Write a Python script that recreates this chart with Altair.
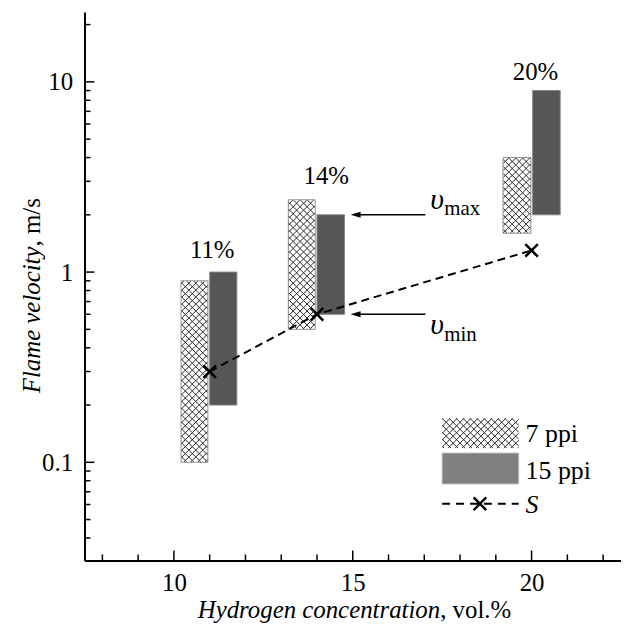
import math
import altair as alt
import pandas as pd

# ---------------- data ----------------
concentration = [11, 14, 20]
pct_labels = ["11%", "14%", "20%"]
pct_label_x = [11.07, 14.26, 20.11]
pct_label_y = [1.18, 2.91, 10.2]

# 7 ppi foam: bar extent along x and velocity range
ppi7_x1 = [10.20, 13.20, 19.20]
ppi7_x2 = [10.95, 13.95, 19.98]
ppi7_vmin = [0.10, 0.50, 1.60]
ppi7_vmax = [0.90, 2.40, 4.00]

# 15 ppi foam
ppi15_x1 = [11.00, 14.00, 20.03]
ppi15_x2 = [11.76, 14.77, 20.80]
ppi15_vmin = [0.20, 0.60, 2.00]
ppi15_vmax = [1.00, 2.00, 9.00]

# S curve
s_x = [11, 14, 20]
s_v = [0.30, 0.60, 1.30]

x_major = [10, 15, 20]
x_minor = [8, 9, 11, 12, 13, 14, 16, 17, 18, 19, 21, 22]
y_major = [0.1, 1, 10]
y_minor = [0.04, 0.05, 0.06, 0.07, 0.08, 0.09,
           0.2, 0.3, 0.4, 0.5, 0.6, 0.7, 0.8, 0.9,
           2, 3, 4, 5, 6, 7, 8, 9, 20]

# ---------------- layout ----------------
FONT = "Liberation Serif, Times New Roman, Times, serif"
W, H = 540, 552
PAD = {"left": 77, "top": 2, "right": 0, "bottom": 62}
X_DOM = [7.5, 22.5]
Y_DOM = [0.0305, 23.3]
KX = W / (X_DOM[1] - X_DOM[0])
LY0, LY1 = math.log10(Y_DOM[0]), math.log10(Y_DOM[1])
KY = H / (LY1 - LY0)


def x2px(x):
    return (x - X_DOM[0]) * KX


def y2px(y):
    return (LY1 - math.log10(y)) * KY


def px2x(p):
    return X_DOM[0] + p / KX


def px2y(p):
    return 10 ** (LY1 - p / KY)


def hatch(l, t, r, b, step=7.0):
    """cross-hatch segments inside a pixel rectangle, returned in data units"""
    segs = []
    c = math.ceil((t - r) / step) * step
    while c <= b - l:
        p1, p2 = max(l, t - c), min(r, b - c)
        if p2 - p1 > 0.5:
            segs.append((p1, p1 + c, p2, p2 + c))
        c += step
    c = math.ceil((t + l) / step) * step
    while c <= b + r:
        p1, p2 = max(l, c - b), min(r, c - t)
        if p2 - p1 > 0.5:
            segs.append((p1, c - p1, p2, c - p2))
        c += step
    return [{"x": px2x(a), "y": px2y(bb), "x2": px2x(cc), "y2": px2y(d)}
            for a, bb, cc, d in segs]


xs = alt.Scale(domain=X_DOM, nice=False, zero=False)
ys = alt.Scale(type="log", domain=Y_DOM, nice=False)

XA = alt.Axis(values=x_major, format="d", ticks=False, tickSize=0, grid=False,
              domain=True, domainColor="black", domainWidth=2,
              labelFont=FONT, labelFontSize=25, labelColor="black",
              labelPadding=10, title=None, labelOverlap=False, labelFlush=False)
YA = alt.Axis(values=y_major, format="~g", ticks=False, tickSize=0, grid=False,
              domain=True, domainColor="black", domainWidth=2,
              labelFont=FONT, labelFontSize=25, labelColor="black",
              labelPadding=12, title=None, labelOverlap=False, labelFlush=False)


def X(f):
    return alt.X(f, scale=xs, axis=XA)


def Y(f):
    return alt.Y(f, scale=ys, axis=YA)


bars7 = pd.DataFrame({"x1": ppi7_x1, "x2": ppi7_x2, "v1": ppi7_vmin, "v2": ppi7_vmax})
bars15 = pd.DataFrame({"x1": ppi15_x1, "x2": ppi15_x2, "v1": ppi15_vmin, "v2": ppi15_vmax})

# hatch for the 7 ppi bars and for the legend swatch
hatch_rows = []
for a, bq, lo, hi in zip(ppi7_x1, ppi7_x2, ppi7_vmin, ppi7_vmax):
    hatch_rows += hatch(x2px(a) + 0.5, y2px(hi) + 0.5, x2px(bq) - 0.5, y2px(lo) - 0.5)
LEG_L, LEG_R = 360, 437
hatch_rows += hatch(LEG_L, 409, LEG_R, 439)
hatch_df = pd.DataFrame(hatch_rows)

b7 = alt.Chart(bars7).mark_rect(fill="white", stroke="#8f8f8f", strokeWidth=1).encode(
    x=X("x1:Q"), x2="x2:Q", y=Y("v1:Q"), y2="v2:Q")

hatch_layer = alt.Chart(hatch_df).mark_rule(color="#2a2a2a", strokeWidth=1).encode(
    x=X("x:Q"), x2="x2:Q", y=Y("y:Q"), y2="y2:Q")

b15 = alt.Chart(bars15).mark_rect(fill="#565656", stroke="#858585", strokeWidth=1).encode(
    x=X("x1:Q"), x2="x2:Q", y=Y("v1:Q"), y2="v2:Q")

sdf = pd.DataFrame({"x": s_x, "v": s_v})
s_line = alt.Chart(sdf).mark_line(color="black", strokeWidth=2, strokeDash=[8, 5]).encode(
    x=X("x:Q"), y=Y("v:Q"))
XSHAPE = "M-1,-1L1,1M-1,1L1,-1"
s_pts = alt.Chart(sdf).mark_point(shape=XSHAPE, size=160, filled=False, stroke="black",
                                  strokeWidth=2.5, opacity=1).encode(
    x=X("x:Q"), y=Y("v:Q"))

pct_df = pd.DataFrame({"x": pct_label_x, "y": pct_label_y, "t": pct_labels})
pct = alt.Chart(pct_df).mark_text(font=FONT, fontSize=25, color="black", align="center",
                                  baseline="alphabetic").encode(
    x=X("x:Q"), y=Y("y:Q"), text="t:N")

# ticks (inward)
one = pd.DataFrame({"a": [0]})
xt_major = alt.Chart(pd.DataFrame({"x": x_major})).mark_rule(color="black", strokeWidth=1.5).encode(
    x=X("x:Q"), y=alt.value(H), y2=alt.value(H - 10))
xt_minor = alt.Chart(pd.DataFrame({"x": x_minor})).mark_rule(color="black", strokeWidth=1.5).encode(
    x=X("x:Q"), y=alt.value(H), y2=alt.value(H - 6))
yt_major = alt.Chart(pd.DataFrame({"y": y_major})).mark_rule(color="black", strokeWidth=1.5).encode(
    y=Y("y:Q"), x=alt.value(0), x2=alt.value(10))
yt_minor = alt.Chart(pd.DataFrame({"y": y_minor})).mark_rule(color="black", strokeWidth=1.5).encode(
    y=Y("y:Q"), x=alt.value(0), x2=alt.value(6))

# v_max / v_min arrows
ARROW_TIP, ARROW_TAIL = 14.94, 17.03
arrow_y = [ppi15_vmax[1], ppi15_vmin[1]]
arr_df = pd.DataFrame({"x": [ARROW_TIP + 5 / KX] * 2, "x2": [ARROW_TAIL] * 2, "y": arrow_y})
arr_line = alt.Chart(arr_df).mark_rule(color="black", strokeWidth=1.5).encode(
    x=X("x:Q"), x2="x2:Q", y=Y("y:Q"))
arr_head = alt.Chart(arr_df).mark_point(shape="M-1,0L1,-0.6L1,0.6Z", size=100, filled=True,
                                        color="black", opacity=1).encode(
    x=X("x:Q"), y=Y("y:Q"))

v_layers = []
for yv, sub, dy1, dy2 in [(arrow_y[0], "max", -6, 0), (arrow_y[1], "min", 20, 27)]:
    d = pd.DataFrame({"x": [17.17], "y": [yv]})
    v_layers.append(alt.Chart(d).mark_text(text="υ", font=FONT, fontSize=30, fontStyle="italic",
                                           color="black", align="left", baseline="alphabetic",
                                           dy=dy1).encode(x=X("x:Q"), y=Y("y:Q")))
    d2 = pd.DataFrame({"x": [17.56], "y": [yv]})
    v_layers.append(alt.Chart(d2).mark_text(text=sub, font=FONT, fontSize=21, color="black",
                                            align="left", baseline="alphabetic", dy=dy2).encode(
        x=X("x:Q"), y=Y("y:Q")))

# legend
leg = [
    alt.Chart(one).mark_rect(fill="#808080", stroke="#b5b5b5", strokeWidth=1).encode(
        x=alt.value(LEG_L), x2=alt.value(LEG_R), y=alt.value(444), y2=alt.value(475)),
    alt.Chart(one).mark_rule(color="black", strokeWidth=2, strokeDash=[8, 6]).encode(
        x=alt.value(LEG_L), x2=alt.value(LEG_R), y=alt.value(495)),
    alt.Chart(one).mark_point(shape=XSHAPE, size=160, filled=False, stroke="black",
                              strokeWidth=2.5, opacity=1).encode(
        x=alt.value(398), y=alt.value(495)),
    alt.Chart(one).mark_text(text="7 ppi", font=FONT, fontSize=26, color="black", align="left",
                             baseline="alphabetic").encode(x=alt.value(444), y=alt.value(433)),
    alt.Chart(one).mark_text(text="15 ppi", font=FONT, fontSize=26, color="black", align="left",
                             baseline="alphabetic").encode(x=alt.value(444), y=alt.value(470)),
    alt.Chart(one).mark_text(text="S", font=FONT, fontSize=26, fontStyle="italic", color="black",
                             align="left", baseline="alphabetic").encode(x=alt.value(444), y=alt.value(504)),
]

# axis titles (mixed italic / upright)
titles = [
    alt.Chart(one).mark_text(text="Hydrogen concentration", font=FONT, fontSize=25,
                             fontStyle="italic", color="black", align="right",
                             baseline="alphabetic").encode(x=alt.value(358), y=alt.value(610)),
    alt.Chart(one).mark_text(text=", vol.%", font=FONT, fontSize=25, color="black", align="left",
                             baseline="alphabetic").encode(x=alt.value(358), y=alt.value(610)),
    alt.Chart(one).mark_text(text="Flame velocity", font=FONT, fontSize=25, fontStyle="italic",
                             color="black", align="right", baseline="alphabetic",
                             angle=270).encode(x=alt.value(-45), y=alt.value(236)),
    alt.Chart(one).mark_text(text=", m/s", font=FONT, fontSize=25, color="black", align="left",
                             baseline="alphabetic", angle=270).encode(x=alt.value(-45), y=alt.value(236)),
]

chart = alt.layer(
    b7, hatch_layer, b15, s_line, s_pts, pct,
    xt_major, xt_minor, yt_major, yt_minor,
    arr_line, arr_head, *v_layers, *leg, *titles,
).properties(
    width=W, height=H, padding=PAD, autosize=alt.AutoSizeParams(type="none"),
    background="white",
).configure_view(strokeWidth=0)

chart.save("out.html", embed_options={"renderer": "svg", "actions": False})
